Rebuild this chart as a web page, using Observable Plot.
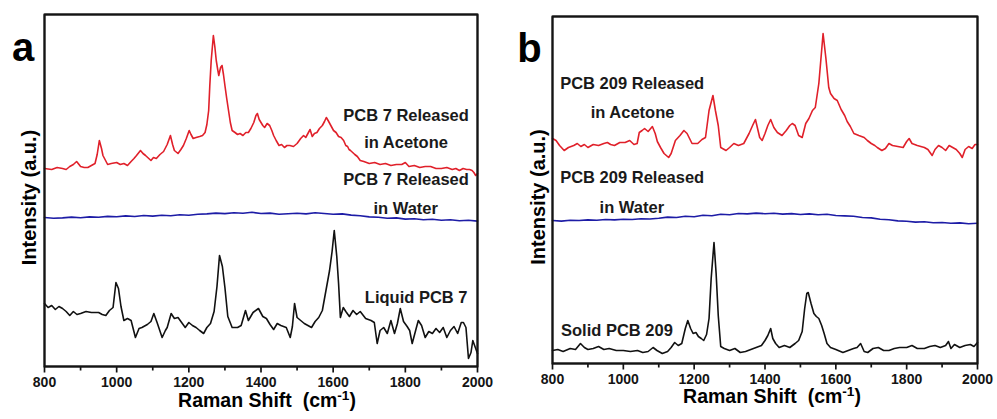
<!DOCTYPE html>
<html>
<head>
<meta charset="utf-8">
<script src="https://cdn.jsdelivr.net/npm/d3@7"></script>
<script src="https://cdn.jsdelivr.net/npm/@observablehq/plot@0.6"></script>
<style>
  html, body { margin: 0; padding: 0; background: #fff; }
  #wrap { position: relative; width: 997px; height: 419px; overflow: hidden; }
  .panel { position: absolute; top: 0; width: 497px; height: 419px; }
</style>
</head>
<body>
<div id="wrap">
  <div class="panel" id="pa" style="left:0px"></div>
  <div class="panel" id="pb" style="left:500px"></div>
</div>
<script>
// ---------- data (Raman shift cm-1, intensity a.u.) ----------
const xDomain = [800, 2000];
const majorTicks = [800, 1000, 1200, 1400, 1600, 1800, 2000];
const minorTicks = [900, 1100, 1300, 1500, 1700, 1900];
const xLabelMain = "Raman Shift  (cm";
const xLabelSup = "-1";
const xLabelEnd = ")";
const yLabel = "Intensity (a.u.)";

// Panel a
const acetoneA = [[800,198],[820,197],[835,199],[850,198],[860,197],[870,200],[880,202],[889,205],[900,200],[910,199],[920,199],[930,201],[940,203],[946,212],[952,226],[958,218],[962,211],[975,202],[985,203],[1000,204],[1010,202],[1020,203],[1030,201],[1040,205],[1048,208],[1055,211],[1066,216],[1073,213],[1080,211],[1095,206],[1102,209],[1110,208],[1120,212],[1130,215],[1140,222],[1149,231],[1155,222],[1160,216],[1170,213],[1178,217],[1185,221],[1193,228],[1201,236],[1206,232],[1212,228],[1220,229],[1230,230],[1238,231],[1245,234],[1250,242],[1255,256],[1258,280],[1262,306],[1268,331],[1272,320],[1276,306],[1280,297],[1283,291],[1288,299],[1292,301],[1296,292],[1300,281],[1305,268],[1310,256],[1315,244],[1320,236],[1328,234],[1335,232],[1342,233],[1350,231],[1358,234],[1365,234],[1372,238],[1380,244],[1386,251],[1390,253],[1395,247],[1400,244],[1405,241],[1410,239],[1417,243],[1424,241],[1430,236],[1435,231],[1442,226],[1450,221],[1457,222],[1465,219],[1472,221],[1480,221],[1490,220],[1500,223],[1510,228],[1518,231],[1524,229],[1530,233],[1536,237],[1542,230],[1548,233],[1555,234],[1562,238],[1570,241],[1576,245],[1581,249],[1586,246],[1592,242],[1601,236],[1608,234],[1615,230],[1622,229],[1629,226],[1635,221],[1640,220],[1644,217],[1648,216],[1654,214],[1660,212],[1667,210],[1675,206],[1685,205],[1700,203],[1715,204],[1730,202],[1745,203],[1760,201],[1775,202],[1790,202],[1800,204],[1810,200],[1825,201],[1840,199],[1855,200],[1870,200],[1885,198],[1900,198],[1915,199],[1930,197],[1940,198],[1950,196],[1960,198],[1970,197],[1978,197],[1985,196],[1990,194],[1995,191],[2000,193]];

const waterA = [[800,149.0],[825,148.2],[850,148.6],[875,149.4],[900,148.8],[925,149.6],[950,149.2],[975,150.1],[1000,149.7],[1025,150.6],[1050,150.0],[1075,151.0],[1100,150.4],[1125,151.3],[1150,150.8],[1175,151.7],[1200,151.2],[1225,152.2],[1250,152.6],[1275,153.4],[1300,152.9],[1325,153.8],[1350,153.2],[1375,154.2],[1400,153.0],[1425,153.4],[1450,152.3],[1475,152.8],[1500,153.2],[1525,152.6],[1550,153.8],[1575,153.0],[1600,152.2],[1625,152.6],[1650,151.4],[1675,150.8],[1700,149.6],[1725,149.2],[1750,148.3],[1775,148.6],[1800,147.4],[1825,147.8],[1850,146.8],[1875,147.2],[1900,146.3],[1925,146.7],[1950,145.8],[1975,146.2],[2000,145.4]];

const liquidA = [[800,63],[810,59],[820,61],[830,57],[840,60],[850,58],[860,55],[870,51],[880,55],[890,52],[900,53],[915,55],[930,54],[950,54],[960,52],[970,51],[980,56],[990,59],[998,84],[1005,78],[1012,60],[1020,46],[1030,48],[1040,46],[1052,29],[1062,38],[1070,39],[1085,42],[1095,45],[1103,53],[1112,44],[1126,29],[1135,36],[1140,39],[1151,53],[1160,48],[1170,49],[1180,44],[1190,39],[1200,44],[1210,41],[1220,39],[1230,36],[1241,33],[1250,39],[1260,43],[1270,55],[1278,80],[1285,111],[1293,100],[1300,79],[1308,50],[1320,39],[1335,39],[1345,41],[1357,56],[1365,46],[1378,54],[1393,58],[1405,50],[1415,48],[1425,42],[1435,37],[1445,43],[1455,41],[1470,39],[1481,29],[1487,40],[1493,63],[1500,49],[1510,46],[1520,43],[1530,41],[1540,39],[1550,45],[1560,49],[1570,56],[1580,76],[1590,96],[1597,115],[1603,136],[1610,110],[1615,83],[1620,49],[1628,59],[1635,55],[1645,50],[1655,56],[1665,52],[1675,55],[1690,48],[1705,46],[1714,44],[1722,23],[1730,36],[1740,39],[1750,33],[1760,46],[1770,33],[1778,43],[1786,58],[1795,45],[1805,40],[1812,36],[1819,23],[1830,38],[1836,46],[1845,41],[1855,29],[1865,35],[1875,33],[1885,38],[1895,34],[1905,39],[1915,29],[1925,36],[1935,40],[1945,33],[1955,44],[1961,44],[1968,39],[1975,8],[1982,14],[1987,26],[1993,20],[2000,13]];

// Panel b
const acetoneB = [[800,225],[810,223],[820,218],[833,213],[845,216],[860,218],[870,220],[880,217],[890,219],[900,216],[915,219],[930,218],[945,220],[955,221],[964,219],[975,218],[990,221],[1005,221],[1018,223],[1030,219],[1039,220],[1045,231],[1053,233],[1060,235],[1070,232],[1082,237],[1090,230],[1096,222],[1105,216],[1115,210],[1128,206],[1135,210],[1147,223],[1160,228],[1171,233],[1180,230],[1194,220],[1210,220],[1222,224],[1232,226],[1242,253],[1253,268],[1260,253],[1268,238],[1275,216],[1290,213],[1300,216],[1312,220],[1325,218],[1340,220],[1355,230],[1365,238],[1373,244],[1385,226],[1392,223],[1400,230],[1408,238],[1416,244],[1425,236],[1435,231],[1448,228],[1460,233],[1470,238],[1477,240],[1485,238],[1495,228],[1505,226],[1515,240],[1524,245],[1534,253],[1542,256],[1552,280],[1558,305],[1564,330],[1572,305],[1580,276],[1585,270],[1595,265],[1604,263],[1615,254],[1625,248],[1632,242],[1641,237],[1651,230],[1665,228],[1680,226],[1689,223],[1700,220],[1710,218],[1717,216],[1730,213],[1740,215],[1750,220],[1760,218],[1775,217],[1790,216],[1800,222],[1807,225],[1815,220],[1830,218],[1850,216],[1860,214],[1872,208],[1880,214],[1890,218],[1900,216],[1910,213],[1920,218],[1930,216],[1940,214],[1950,210],[1957,206],[1965,214],[1975,217],[1985,215],[1993,219],[2000,219]];

const waterB = [[800,143.0],[825,142.4],[850,143.3],[875,143.0],[900,143.6],[925,143.2],[950,144.0],[975,143.6],[1000,144.3],[1025,144.0],[1050,144.8],[1075,144.5],[1100,145.3],[1125,146.4],[1150,146.0],[1175,147.2],[1200,146.8],[1225,148.2],[1250,147.8],[1275,149.2],[1300,148.8],[1325,150.0],[1350,149.6],[1375,150.4],[1400,149.8],[1425,150.2],[1450,149.4],[1475,149.9],[1500,149.0],[1525,149.6],[1550,148.8],[1575,149.2],[1600,148.0],[1625,147.6],[1650,147.2],[1675,146.0],[1700,145.6],[1725,144.2],[1750,143.8],[1775,142.6],[1800,142.3],[1825,141.4],[1850,141.8],[1875,140.8],[1900,141.0],[1925,140.2],[1950,140.6],[1975,139.8],[2000,140.2]];

const solidB = [[800,13],[815,14],[830,12],[850,15],[865,14],[879,20],[890,16],[900,14],[915,15],[930,17],[945,14],[960,15],[980,13],[1000,13],[1020,12],[1040,13],[1055,11],[1070,12],[1084,16],[1095,13],[1110,10],[1125,12],[1135,16],[1145,21],[1155,18],[1165,20],[1175,35],[1182,43],[1190,35],[1197,30],[1205,31],[1212,27],[1220,25],[1227,23],[1235,29],[1242,45],[1248,85],[1256,121],[1262,90],[1268,48],[1275,17],[1285,15],[1300,13],[1315,15],[1330,11],[1345,12],[1360,14],[1375,16],[1390,18],[1400,23],[1408,28],[1416,35],[1422,25],[1430,20],[1440,16],[1455,18],[1470,16],[1485,20],[1495,23],[1505,32],[1512,55],[1518,70],[1522,71],[1530,60],[1538,50],[1545,47],[1552,45],[1560,38],[1567,30],[1575,20],[1585,16],[1600,14],[1620,11],[1635,13],[1650,15],[1660,16],[1670,20],[1680,12],[1690,11],[1705,15],[1720,16],[1735,13],[1750,13],[1765,15],[1780,16],[1800,16],[1815,18],[1830,15],[1850,15],[1865,17],[1880,18],[1895,16],[1910,18],[1918,22],[1925,15],[1935,19],[1950,16],[1965,18],[1980,19],[1990,17],[2000,21]];

// annotations: [x, y, text]
const notesA = [[1802,251,"PCB 7 Released"],[1802,224,"in Acetone"],[1802,187,"PCB 7 Released"],[1801,158,"in Water"],[1830,69,"Liquid PCB 7"]];
const notesB = [[1025,280,"PCB 209 Released"],[1026,251,"in Acetone"],[1025,186,"PCB 209 Released"],[1024,156,"in Water"],[982,33,"Solid PCB 209"]];

// ---------- drawing ----------
const FONT = "'Liberation Sans', Arial, Helvetica, sans-serif";
const RED = "#e0202a", BLUE = "#1d1ca6", BLACK = "#111111", INK = "#141414";

function panel(o) {
  const [x0, x1] = xDomain;
  // plot box outline as a path through the domain corners
  const box = [[x0, 0], [x1, 0], [x1, o.ymax], [x0, o.ymax], [x0, 0]];
  // 1 y-unit == 1 px for both panels (domain height == frame height)
  const majorLen = 6, minorLen = 4;
  const svg = Plot.plot({
    width: 497, height: 419,
    marginTop: o.mt, marginBottom: o.mb, marginLeft: o.ml, marginRight: 20,
    style: {fontFamily: FONT, fontWeight: "bold", color: INK, background: "#ffffff"},
    x: {domain: xDomain},
    y: {domain: [0, o.ymax], axis: null},
    marks: [
      Plot.axisX({ticks: majorTicks, tickSize: 0, tickPadding: 11, fontSize: 14, fontWeight: "bold",
                  tickFormat: d => String(d), label: null}),
      Plot.link(majorTicks, {x1: d => d, x2: d => d, y1: 0, y2: -majorLen, stroke: INK, strokeWidth: 1.7}),
      Plot.link(minorTicks, {x1: d => d, x2: d => d, y1: 0, y2: -minorLen, stroke: INK, strokeWidth: 1.7}),
      Plot.line(o.red, {x: d => d[0], y: d => d[1], stroke: RED, strokeWidth: 1.6}),
      Plot.line(o.blue, {x: d => d[0], y: d => d[1], stroke: BLUE, strokeWidth: 1.6}),
      Plot.line(o.black, {x: d => d[0], y: d => d[1], stroke: BLACK, strokeWidth: 1.6}),
      Plot.line(box, {x: d => d[0], y: d => d[1], stroke: INK, strokeWidth: 1.9, strokeLinejoin: "miter"}),
      Plot.frame({stroke: INK, strokeWidth: 1.9}),
      Plot.text(o.notes, {x: d => d[0], y: d => d[1], text: d => d[2], fontSize: 16.5, fontWeight: "bold", fill: "#1a1a1a"}),
      Plot.text([o.letter], {frameAnchor: "top-left", textAnchor: "middle", dx: o.ldx, dy: o.ldy, fontSize: 40, fontWeight: "bold", fill: "#000000"}),
      Plot.text([yLabel], {frameAnchor: "left", textAnchor: "middle", rotate: -90, dx: o.ydx, dy: 7, fontSize: 20, fontWeight: "bold", fill: "#000000"}),
      Plot.text([xLabelMain + xLabelSup + xLabelEnd], {frameAnchor: "bottom", textAnchor: "middle", dx: o.xdx, dy: o.xdy, fontSize: 19.5, fontWeight: "bold", fill: "#000000"})
    ]
  });
  // typeset the unit's exponent as a real superscript
  d3.select(svg).selectAll("text")
    .filter(function() { return this.textContent === xLabelMain + xLabelSup + xLabelEnd; })
    .each(function() {
      const t = d3.select(this);
      t.text(null);
      t.append("tspan").text(xLabelMain);
      t.append("tspan").attr("dy", "-0.5em").attr("font-size", "0.7em").text(xLabelSup);
      t.append("tspan").attr("dy", "0.35em").text(xLabelEnd);
    });
  return svg;
}

document.getElementById("pa").appendChild(panel({
  mt: 14, mb: 53, ml: 44, ymax: 352, red: acetoneA, blue: waterA, black: liquidA, notes: notesA,
  letter: "a", ldx: -21.5, ldy: 18, ydx: -15, xdx: 6, xdy: 40.5
}));
document.getElementById("pb").appendChild(panel({
  mt: 16, mb: 56, ml: 52, ymax: 347, red: acetoneB, blue: waterB, black: solidB, notes: notesB,
  letter: "b", ldx: -23, ldy: 17, ydx: -14, xdx: 7, xdy: 39.5
}));
</script>
</body>
</html>
